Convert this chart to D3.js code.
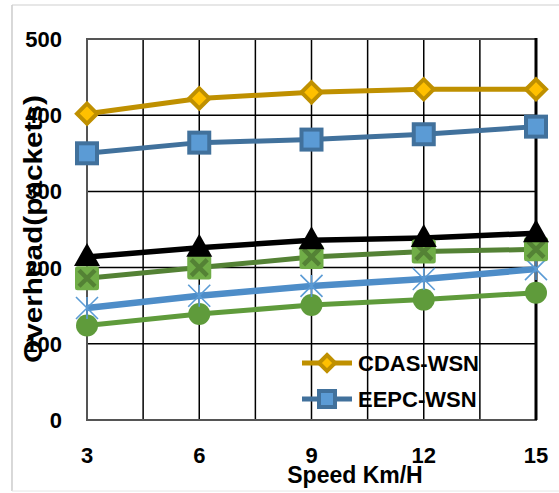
<!DOCTYPE html>
<html><head><meta charset="utf-8">
<script src="https://cdn.jsdelivr.net/npm/d3@7"></script>
<style>body{margin:0;background:#fff}svg{display:block}text{font-family:"Liberation Sans",Arial,sans-serif;font-weight:bold;fill:#000}</style>
</head><body><svg id="c" width="559" height="493"></svg>
<script>
const speeds = [3, 6, 9, 12, 15];
const xGrid = [3, 4.5, 6, 7.5, 9, 10.5, 12, 13.5, 15];
const yTicks = [0, 100, 200, 300, 400, 500];
const cdas = [402, 422, 430, 434, 434];
const eepc = [350, 364, 368, 375, 385];
const seriesTri = [214, 226, 236, 239, 245];
const seriesX = [186, 200, 214, 221, 224];
const seriesStar = [147, 163, 176, 185, 198];
const seriesCircle = [124, 139, 151, 158, 167];
const legendNames = ["CDAS-WSN", "EEPC-WSN"];

const svg = d3.select("#c");
const x = d3.scaleLinear().domain([3, 15]).range([87, 536]);
const y = d3.scaleLinear().domain([0, 500]).range([420, 39]);

// chart area border
svg.append("line").attr("x1",12).attr("x2",12).attr("y1",5).attr("y2",491).attr("stroke","#bfbfbf").attr("stroke-width",1.2);
svg.append("line").attr("x1",12).attr("x2",559).attr("y1",5).attr("y2",5).attr("stroke","#cfcfcf").attr("stroke-width",1.2);
svg.append("line").attr("x1",12).attr("x2",559).attr("y1",491).attr("y2",491).attr("stroke","#e6e6e6").attr("stroke-width",1);

// gridlines
svg.append("g").selectAll("line").data(yTicks).join("line")
  .attr("x1", x(3)).attr("x2", x(15)).attr("y1", d=>y(d)).attr("y2", d=>y(d))
  .attr("stroke", "#000").attr("stroke-width", 1.5);
svg.append("g").selectAll("line").data(xGrid).join("line")
  .attr("x1", d=>x(d)).attr("x2", d=>x(d)).attr("y1", y(0)).attr("y2", y(500))
  .attr("stroke", "#000").attr("stroke-width", 1.5);
// plot border
svg.append("rect").attr("x", x(3)).attr("y", y(500)).attr("width", x(15)-x(3)).attr("height", y(0)-y(500))
  .attr("fill","none").attr("stroke","#555").attr("stroke-width",2);
svg.append("line").attr("x1",x(15)).attr("x2",x(15)).attr("y1",y(500)-1).attr("y2",y(0)).attr("stroke","#000").attr("stroke-width",3);

// axes labels
svg.append("g").selectAll("text").data(yTicks).join("text")
  .attr("x", 62).attr("y", d=>y(d)).attr("dy","0.36em").attr("text-anchor","end")
  .style("font-size","22px").text(d=>d);
svg.append("g").selectAll("text").data(speeds).join("text")
  .attr("x", d=>x(d)).attr("y", 463).attr("text-anchor","middle")
  .style("font-size","22px").text(d=>d);
svg.append("text").attr("x",355).attr("y",483).attr("text-anchor","middle").style("font-size","23px").text("Speed Km/H");
svg.append("text").attr("transform","translate(42,229) rotate(-90)").attr("text-anchor","middle")
  .attr("textLength",268).attr("lengthAdjust","spacingAndGlyphs")
  .style("font-size","26px").text("Overhead(packets)");

const line = d3.line().x((d,i)=>x(speeds[i])).y(d=>y(d));
function drawLine(data, color, w){
  svg.append("path").datum(data).attr("d", line).attr("fill","none").attr("stroke",color).attr("stroke-width",w).attr("stroke-linejoin","round");
}

function diamond(g, s){ g.append("path").attr("d", `M0,${-s}L${s},0L0,${s}L${-s},0Z`).attr("fill","#FFC000").attr("stroke","#BF9000").attr("stroke-width",4).attr("stroke-linejoin","miter"); }
function square(g, s){ g.append("rect").attr("x",-s).attr("y",-s).attr("width",2*s).attr("height",2*s).attr("fill","#5B9BD5").attr("stroke","#41719C").attr("stroke-width",4); }

// series
drawLine(seriesCircle, "#5F9B3B", 5);
drawLine(seriesStar, "#4E8DC8", 6.5);
drawLine(seriesX, "#548235", 5);
drawLine(seriesTri, "#000", 5.5);
drawLine(eepc, "#41719C", 5);
drawLine(cdas, "#BF9000", 5);

// circle markers
svg.append("g").selectAll("circle").data(seriesCircle).join("circle")
  .attr("cx",(d,i)=>x(speeds[i])).attr("cy",d=>y(d)).attr("r",11).attr("fill","#5F9B3B");
// star markers
svg.append("g").selectAll("path").data(seriesStar).join("path")
  .attr("transform",(d,i)=>`translate(${x(speeds[i])},${y(d)})`)
  .attr("d","M-11,-11L11,11M-11,11L11,-11M0,-11L0,11").attr("stroke","#5B9BD5").attr("stroke-width",1.6).attr("fill","none");
// green X-square markers
svg.append("g").selectAll("g").data(seriesX).join("g")
  .attr("transform",(d,i)=>`translate(${x(speeds[i])},${y(d)})`)
  .each(function(){
    const g = d3.select(this);
    g.append("rect").attr("x",-12).attr("y",-12).attr("width",24).attr("height",24).attr("rx",2.5).attr("fill","#70AD47");
    g.append("path").attr("d","M-8,-8L8,8M-8,8L8,-8").attr("stroke","#548235").attr("stroke-width",4.5);
  });
// triangles
svg.append("g").selectAll("path").data(seriesTri).join("path")
  .attr("transform",(d,i)=>`translate(${x(speeds[i])},${y(d)})`)
  .attr("d","M0,-14L13,9L-13,9Z").attr("fill","#000");
// squares
svg.append("g").selectAll("g").data(eepc).join("g")
  .attr("transform",(d,i)=>`translate(${x(speeds[i])},${y(d)})`)
  .each(function(){ square(d3.select(this), 10); });
// diamonds
svg.append("g").selectAll("g").data(cdas).join("g")
  .attr("transform",(d,i)=>`translate(${x(speeds[i])},${y(d)})`)
  .each(function(){ diamond(d3.select(this), 10); });

// legend
const legY = [363, 399];
const leg = svg.append("g");
[["#BF9000", diamond, 8], ["#41719C", square, 8]].forEach((c, i) => {
  leg.append("line").attr("x1",302).attr("x2",352).attr("y1",legY[i]).attr("y2",legY[i]).attr("stroke",c[0]).attr("stroke-width",5);
  const g = leg.append("g").attr("transform",`translate(327,${legY[i]})`);
  c[1](g, c[2]);
  leg.append("text").attr("x",358).attr("y",legY[i]).attr("dy","0.36em").style("font-size","22px").text(legendNames[i]);
});
</script></body></html>
